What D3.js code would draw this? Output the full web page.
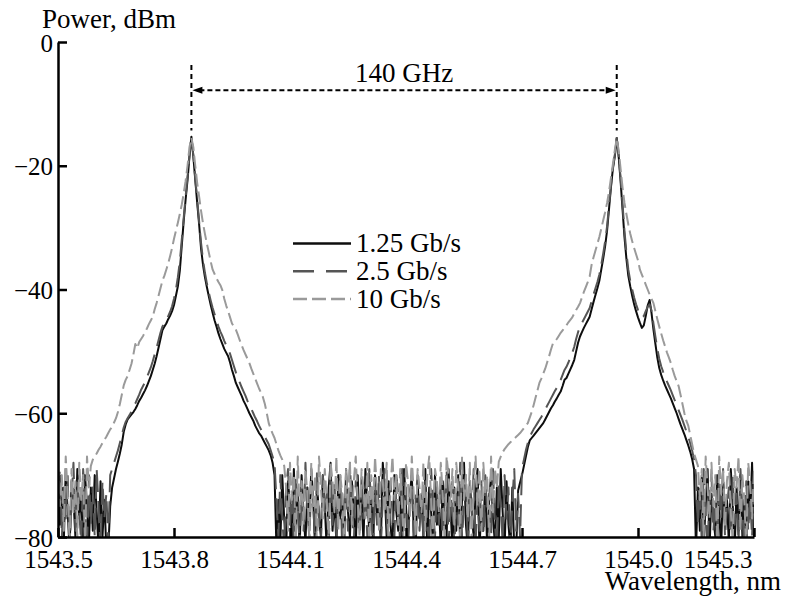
<!DOCTYPE html>
<html>
<head>
<meta charset="utf-8">
<script src="https://d3js.org/d3.v7.min.js"></script>
<style>
  svg text { font-family: "Liberation Serif", "Times New Roman", serif !important; }
</style>
</head>
<body style="margin:0">
<svg id="chart" width="785" height="605"></svg>
<script>
const WIDTH = 785;
const HEIGHT = 605;
const margins = { left: 58, right: 31, top: 42, bottom: 68 };
const FONT = "Liberation Serif";

// spectrum analyser sampling grid: 1543.5 ... 1545.3 nm, one point every 0.005 nm
const wlStart = 1543.5;
const wlStep = 0.005;
const wlCount = 361;

const seriesNames = ["1.25 Gb/s", "2.5 Gb/s", "10 Gb/s"];
const xTicks = [1543.5, 1543.8, 1544.1, 1544.4, 1544.7, 1545.0, 1545.3];
const yTicks = [0, -20, -40, -60, -80];
const peakWavelengths = [1543.845, 1544.945];
const spacingLabel = "140 GHz";

// power, dBm (one per grid point)
const power125 = [
  -70, -78, -72, -81, -69, -76, -82, -71, -74, -80,
  -69, -77, -73, -82, -70, -75, -81, -72, -79, -70,
  -76, -82, -71, -80, -74, -82, -82, -75, -72, -70.5,
  -69, -67.8, -66.5, -65, -63, -61.8, -61, -60.6, -60.2, -59.8,
  -59.3, -58.7, -58, -57.5, -56.9, -56.3, -55.6, -54.8, -54, -53,
  -52, -50.8, -49.4, -48, -46.6, -46, -45.5, -44.8, -44.2, -43.5,
  -42.5, -41, -39.5, -37, -33, -29, -25.5, -22.3, -18.5, -15.3,
  -18.5, -22.3, -26, -29.5, -33.4, -36, -38, -39.6, -41.1, -42.5,
  -43.8, -45, -46, -47.1, -48, -48.8, -49.6, -50.2, -50.8, -51.8,
  -53, -54, -55.1, -55.8, -56.5, -57.2, -58, -58.6, -59.3, -60,
  -60.6, -61.2, -62, -62.6, -63.2, -63.6, -64.2, -64.8, -65.4, -66,
  -66.8, -68, -70, -82, -74, -81, -70, -77, -82, -71,
  -75, -80, -69, -78, -73, -82, -70, -76, -81, -72,
  -79, -69, -74, -82, -71, -77, -80, -70, -75, -82,
  -72, -68, -79, -74, -81, -70, -77, -73, -82, -69,
  -76, -80, -71, -75, -82, -70, -78, -73, -81, -69,
  -74, -79, -72, -82, -70, -77, -75, -81, -68, -73,
  -80, -71, -78, -82, -70, -76, -79, -72, -82, -69,
  -75, -81, -73, -70, -79, -82, -71, -77, -74, -80,
  -69, -82, -72, -76, -81, -70, -78, -74, -82, -71,
  -77, -80, -69, -75, -82, -72, -79, -70, -81, -74,
  -68, -78, -82, -71, -76, -80, -73, -69, -82, -75,
  -79, -71, -82, -74, -70, -77, -81, -72, -80, -69,
  -76, -82, -71, -78, -82, -72, -82, -82, -72.5, -71.2,
  -70, -68.5, -67, -65.5, -64.4, -64, -63.6, -63.2, -62.8, -62.4,
  -62, -61.6, -61, -60.4, -59.8, -59.2, -58.7, -58.1, -57.6, -57,
  -56.5, -55.6, -54.6, -54.3, -53.6, -52.9, -52.2, -51.4, -50, -48.6,
  -47.6, -46.9, -46.2, -45.6, -45, -44.4, -43.2, -42, -40.9, -39.8,
  -38.6, -36.8, -35, -33, -30.5, -27, -23.5, -20.5, -18.5, -15.5,
  -18.5, -22.5, -27, -31.5, -35, -37.8, -39.5, -41, -42.4, -43.5,
  -44.5, -45.4, -46.2, -45.8, -44.3, -42.6, -41.7, -43.8, -46.5, -48.8,
  -51, -52.7, -53.8, -54.7, -55.5, -56.2, -56.9, -57.6, -58.4, -59.2,
  -60, -60.9, -61.8, -62.6, -63.4, -64.3, -65.2, -66.2, -67.4, -69,
  -82, -72, -79, -70, -81, -75, -69, -82, -73, -77,
  -80, -70, -76, -82, -71, -78, -74, -81, -69, -75,
  -82, -72, -79, -70, -80, -74, -82, -71, -77, -68, -80
];

const power25 = [
  -73, -69, -80, -72, -77, -70, -82, -74, -68, -79,
  -71, -76, -81, -69, -74, -82, -70, -78, -72, -80,
  -69, -75, -82, -71, -77, -73, -81, -70, -69, -68,
  -67, -66, -64.8, -63.5, -62.3, -61.4, -60.8, -60.3, -59.7, -59,
  -58.4, -57.7, -57, -56.2, -55.6, -55, -54.2, -53.4, -52.6, -51.6,
  -50.5, -49.4, -48.2, -47, -46, -45.5, -45, -44.3, -43.6, -42.7,
  -41.5, -40, -38, -35.5, -32, -28.5, -25, -21.8, -18.3, -15.3,
  -18.3, -22, -25.5, -29, -32.5, -35.2, -37.3, -39, -40.5, -41.8,
  -43, -44, -45, -46, -46.8, -47.5, -48.3, -49, -49.6, -50.4,
  -51.4, -52.4, -53.4, -54.2, -55, -55.8, -56.5, -57.2, -58, -58.6,
  -59.3, -60, -60.7, -61.3, -62, -62.6, -63.2, -63.8, -64.4, -65,
  -66, -67, -68, -74, -80, -70, -77, -82, -72, -69,
  -78, -73, -81, -70, -75, -82, -71, -79, -68, -76,
  -80, -72, -74, -82, -69, -77, -81, -70, -76, -73,
  -82, -69, -78, -71, -80, -74, -70, -82, -75, -72,
  -79, -68, -76, -81, -71, -74, -82, -70, -77, -73,
  -80, -69, -75, -82, -72, -78, -70, -81, -74, -69,
  -77, -82, -71, -76, -80, -70, -73, -82, -69, -78,
  -72, -81, -75, -69, -82, -74, -70, -79, -73, -80,
  -71, -77, -82, -69, -75, -80, -72, -78, -70, -82,
  -74, -69, -81, -76, -71, -82, -73, -78, -68, -80,
  -75, -70, -82, -72, -77, -69, -81, -74, -79, -71,
  -82, -70, -76, -73, -80, -69, -78, -82, -71, -75,
  -81, -70, -77, -72, -82, -74, -69, -79, -73, -80,
  -69, -67.5, -66, -64.8, -63.8, -63.2, -62.6, -62.1, -61.6, -61.1,
  -60.6, -60, -59.4, -58.8, -58.2, -57.6, -57, -56.4, -55.9, -55.3,
  -54.6, -53.8, -53, -52.5, -51.8, -51, -50.2, -49.3, -48, -46.9,
  -46, -45.4, -44.8, -44.2, -43.6, -43, -41.9, -40.8, -39.8, -38.8,
  -37.6, -36, -34.2, -32.2, -29.8, -26.5, -23.2, -20.3, -18.3, -15.5,
  -18.3, -22, -26.2, -30.5, -34, -36.8, -38.6, -40, -41.3, -42.4,
  -43.3, -44, -44.5, -44.3, -43.5, -42.8, -42.4, -43.4, -45.5, -47.6,
  -49.6, -51.2, -52.4, -53.3, -54.1, -54.9, -55.6, -56.3, -57.1, -57.9,
  -58.7, -59.5, -60.3, -61.1, -62, -62.9, -63.8, -64.8, -66, -67.5,
  -70, -78, -72, -81, -69, -76, -82, -73, -70, -79,
  -74, -82, -71, -77, -69, -80, -75, -72, -82, -70,
  -78, -73, -81, -69, -76, -82, -71, -79, -74, -80, -70
];

const power10 = [
  -68, -75, -70, -79, -67, -73, -81, -69, -76, -71,
  -80, -68, -74, -70, -82, -67, -72, -68.5, -67.5, -67,
  -66.5, -65.9, -65.4, -64.8, -64.3, -63.8, -63.2, -62.6, -62.2, -61.5,
  -60.8, -59.8, -58.5, -57, -55.5, -54.6, -54, -53, -52, -50.5,
  -48.8, -49.5, -48.5, -48, -47.5, -46.9, -46.3, -45.6, -45, -44.4,
  -43.2, -42.2, -41, -39.8, -38.6, -37.8, -36.8, -35.8, -34.6, -33.3,
  -31.8, -30.5, -29.2, -27.8, -26.3, -24.5, -22.5, -20, -17, -15.5,
  -17, -20, -22.8, -25, -27.3, -29.3, -31, -32.6, -34, -35.5,
  -36.8, -37.5, -38.2, -38.8, -39.3, -40.1, -41.5, -42.6, -43.5, -44.5,
  -45.5, -46, -46.5, -47.3, -48.2, -49, -49.8, -50.5, -51.2, -51.9,
  -52.8, -53.6, -54.4, -55.2, -56, -56.7, -57.4, -58.5, -60, -61.6,
  -62.5, -63.3, -64, -65, -66, -66.8, -67.5, -68.5, -72, -79,
  -68, -74, -70, -81, -67, -76, -71, -78, -69, -73,
  -80, -68, -75, -70, -82, -67, -72, -77, -69, -74,
  -81, -68, -71, -76, -67, -79, -70, -73, -82, -69,
  -75, -68, -78, -71, -67, -74, -80, -69, -72, -77,
  -68, -82, -70, -75, -67, -73, -79, -69, -71, -76,
  -68, -81, -72, -67, -74, -70, -78, -69, -75, -82,
  -68, -71, -77, -67, -73, -80, -69, -72, -76, -68,
  -79, -70, -67, -74, -82, -69, -71, -76, -68, -73,
  -81, -67, -70, -75, -69, -78, -68, -72, -80, -67,
  -74, -70, -77, -68, -82, -71, -67, -75, -69, -79,
  -68, -73, -70, -81, -67, -76, -69, -72, -67.8, -67,
  -66.3, -65.8, -65.4, -65, -64.7, -64.4, -64.1, -63.8, -63.5, -63.2,
  -62.8, -62.4, -62, -61.6, -60.7, -59.8, -58.7, -57.5, -56.3, -55.1,
  -54.4, -53.6, -52.8, -51.8, -50.8, -49.7, -48.7, -48.4, -48, -47.5,
  -47, -46.6, -46.2, -45.8, -45.3, -44.9, -44.5, -43.9, -43.3, -42.8,
  -42.2, -41.3, -40.4, -39.6, -38.8, -37.9, -36, -34.8, -33.7, -32.6,
  -31.5, -30.2, -28.8, -27.5, -26, -24.2, -22, -19.8, -17.5, -15.6,
  -17.5, -20.5, -23.5, -26, -27.8, -29.5, -31, -32.2, -33.3, -34.3,
  -35.3, -36.8, -37.6, -38.4, -39.2, -40, -40.8, -41.5, -42.2, -43.5,
  -44.8, -46, -47.1, -48.2, -49.2, -50.2, -51, -51.9, -53, -54,
  -54.8, -55.6, -57, -58.5, -60, -61.2, -62, -63.5, -65, -66.5,
  -67.5, -68.5, -74, -69, -80, -67, -72, -77, -68, -75,
  -70, -82, -67, -73, -69, -78, -71, -68, -76, -81,
  -69, -72, -67, -79, -70, -74, -82, -68, -71, -77, -69
];

const seriesValues = [power125, power25, power10];
const seriesColors = ["#0d0d0d", "#555555", "#9a9a9a"];
const seriesDash = [null, "22,9", "13,5"];

seriesValues.forEach((s, i) => {
    if (s.length !== wlCount) throw new Error(`series ${i} has ${s.length} points, expected ${wlCount}`);
});

const svg = d3.select("#chart");

const x = d3.scaleLinear()
    .domain([1543.5, 1545.3])
    .range([margins.left, WIDTH - margins.right]);

const y = d3.scaleLinear()
    .domain([-80, 0])
    .range([HEIGHT - margins.bottom, margins.top]);

svg.append("clipPath")
    .attr("id", "plot_clip")
    .append("rect")
    .attr("x", x.range()[0])
    .attr("y", y(0))
    .attr("width", x.range()[1] - x.range()[0])
    .attr("height", y(-80) - y(0));

// traces
const line = d3.line()
    .x((d, i) => x(wlStart + i * wlStep))
    .y(d => y(d));

const traces = svg.append("g").attr("clip-path", "url(#plot_clip)");
seriesValues.forEach((vals, i) => {
    traces.append("path")
        .datum(vals)
        .attr("d", line)
        .attr("fill", "none")
        .attr("stroke", seriesColors[i])
        .attr("stroke-width", 2)
        .attr("stroke-linejoin", "round")
        .attr("stroke-dasharray", seriesDash[i]);
});

// axes
const xAxis = g => g
    .attr("transform", `translate(0,${y(-80)})`)
    .call(d3.axisBottom(x).tickValues(xTicks).tickFormat(d3.format(".1f"))
        .tickSize(-9).tickSizeOuter(0).tickPadding(13))
    .attr("font-family", FONT)
    .attr("font-size", 25)
    // last label sits flush with the end of the axis
    .call(g => g.select(".tick:last-of-type text").attr("text-anchor", "end").attr("dx", -2));

const yAxis = g => g
    .attr("transform", `translate(${x(1543.5)},0)`)
    .call(d3.axisLeft(y).tickValues(yTicks).tickFormat(d3.format("d"))
        .tickSize(-9).tickSizeOuter(0).tickPadding(5))
    .attr("font-family", FONT)
    .attr("font-size", 25)
    .call(g => g.selectAll("text").attr("dy", "0.36em"));

svg.append("g").call(xAxis);
svg.append("g").call(yAxis);
svg.selectAll(".domain, .tick line")
    .attr("stroke", "#000")
    .attr("stroke-width", 2.5);

svg.append("text")
    .attr("x", 42)
    .attr("y", 28)
    .attr("font-size", 27)
    .text("Power, dBm");

svg.append("text")
    .attr("x", 781)
    .attr("y", 590)
    .attr("text-anchor", "end")
    .attr("font-size", 27)
    .text("Wavelength, nm");

// channel spacing annotation
const ann = svg.append("g");
const ax1 = x(peakWavelengths[0]);
const ax2 = x(peakWavelengths[1]);
const arrowY = y(-7.8);

peakWavelengths.forEach(p => {
    ann.append("line")
        .attr("x1", x(p)).attr("x2", x(p))
        .attr("y1", y(-3.7)).attr("y2", y(-14.3))
        .attr("stroke", "#000")
        .attr("stroke-width", 2)
        .attr("stroke-dasharray", "5,4");
});

ann.append("line")
    .attr("x1", ax1 + 8).attr("x2", ax2 - 8)
    .attr("y1", arrowY).attr("y2", arrowY)
    .attr("stroke", "#000")
    .attr("stroke-width", 2)
    .attr("stroke-dasharray", "5,3");

ann.append("path")
    .attr("d", `M${ax1 + 1},${arrowY} l10,-3.5 l0,7 Z M${ax2 - 1},${arrowY} l-10,-3.5 l0,7 Z`)
    .attr("fill", "#000");

ann.append("text")
    .attr("x", (ax1 + ax2) / 2)
    .attr("y", 82)
    .attr("text-anchor", "middle")
    .attr("font-size", 27)
    .text(spacingLabel);

// legend
const legend = svg.append("g")
    .attr("class", "categories");

legend.selectAll("g")
    .data(seriesNames)
    .join("g")
    .attr("transform", (d, i) => `translate(293, ${243.5 + i * 27.8})`)
    .call(g => {
        g.append("line")
            .attr("x1", 0).attr("x2", 58)
            .attr("stroke", (d, i) => seriesColors[i])
            .attr("stroke-width", 2.5)
            .attr("stroke-dasharray", (d, i) => i === 0 ? null : (i === 1 ? "21,12" : "14,5"));
    })
    .call(g => {
        g.append("text")
            .attr("x", 63)
            .attr("y", 8.5)
            .attr("font-size", 27)
            .text(d => d);
    });

// serif face on every label, forced so nothing later can swap it
const applyFont = () => svg.selectAll("text")
    .attr("font-family", FONT)
    .each(function () { this.style.setProperty("font-family", "'Liberation Serif', serif", "important"); });
applyFont();
window.addEventListener("load", applyFont);
</script>
</body>
</html>
